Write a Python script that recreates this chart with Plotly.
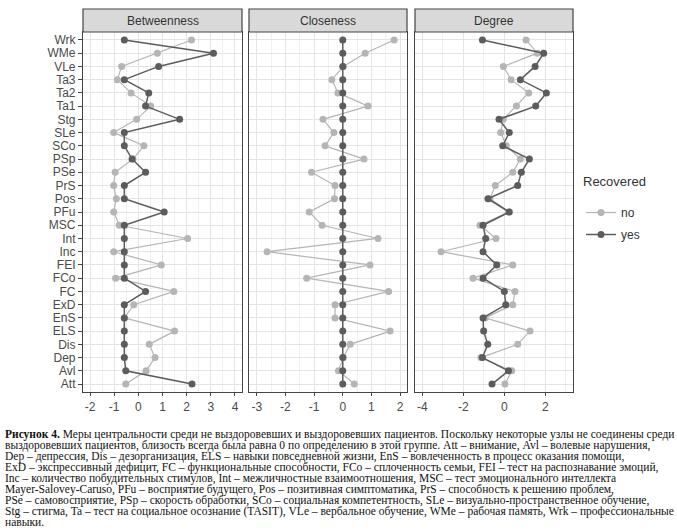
import plotly.graph_objects as go

# ---------------- data ----------------
categories = ["Wrk", "WMe", "VLe", "Ta3", "Ta2", "Ta1", "Stg", "SLe", "SCo", "PSp",
              "PSe", "PrS", "Pos", "PFu", "MSC", "Int", "Inc", "FEI", "FCo", "FC",
              "ExD", "EnS", "ELS", "Dis", "Dep", "Avl", "Att"]

betw_no = [2.20, 0.79, -0.69, -0.87, -0.30, 0.51, -0.07, -1.02, 0.23, -0.22,
           -0.96, -1.02, -0.91, -1.02, -0.79, 2.04, -1.02, 0.95, -0.94, 1.47,
           -0.19, -0.58, 1.50, 0.45, 0.69, 0.32, -0.52]
betw_yes = [-0.58, 3.11, 0.84, -0.58, 0.43, 0.30, 1.71, -0.58, -0.58, -0.26,
            0.30, -0.58, -0.58, 1.07, -0.58, -0.58, -0.58, -0.58, -0.58, 0.30,
            -0.58, -0.58, -0.58, -0.58, -0.58, -0.52, 2.22]

close_no = [1.79, 0.78, 0.02, -0.38, -0.17, 0.88, -0.69, -0.31, -0.62, 0.74,
            -1.09, -0.27, -0.29, -1.17, -0.72, 1.23, -2.64, 0.95, -1.26, 1.60,
            -0.27, -0.27, 1.65, 0.26, 0.02, -0.15, 0.40]
close_yes = [0.0] * 27

deg_no = [1.06, 1.61, -0.05, 0.33, 1.19, 0.59, -0.05, -0.18, 0.10, 0.78,
          0.41, -0.44, -0.70, 0.22, -1.19, -0.41, -3.09, 0.41, -1.53, 0.52,
          0.41, -0.94, 1.25, 0.65, -1.15, 0.36, 0.03]
deg_yes = [-1.07, 1.92, 1.50, 0.78, 2.05, 1.53, -0.26, 0.24, -0.08, 1.22,
           0.83, 0.65, -0.80, 0.24, -1.04, -0.91, -1.04, -0.37, -1.04, 0.00,
           0.07, -1.04, -1.01, -0.81, -1.07, 0.20, -0.60]

panel_titles = ["Betweenness", "Closeness", "Degree"]
x_ticks = [[-2, -1, 0, 1, 2, 3, 4], [-3, -2, -1, 0, 1, 2], [-4, -2, 0, 2]]
x_ranges = [[-2.29, 4.29], [-3.27, 2.24], [-4.36, 3.35]]
group_names = ["no", "yes"]
legend_title = "Recovered"

caption_lines = [
    "<b>Рисунок 4.</b> Меры центральности среди не выздоровевших и выздоровевших пациентов. Поскольку некоторые узлы не соединены среди",
    "выздоровевших пациентов, близость всегда была равна 0 по определению в этой группе. Att – внимание, Avl – волевые нарушения,",
    "Dep – депрессия, Dis – дезорганизация, ELS – навыки повседневной жизни, EnS – вовлеченность в процесс оказания помощи,",
    "ExD – экспрессивный дефицит, FC – функциональные способности, FCo – сплоченность семьи, FEI – тест на распознавание эмоций,",
    "Inc – количество побудительных стимулов, Int – межличностные взаимоотношения, MSC – тест эмоционального интеллекта",
    "Mayer-Salovey-Caruso, PFu – восприятие будущего, Pos – позитивная симптоматика, PrS – способность к решению проблем,",
    "PSe – самовосприятие, PSp – скорость обработки, SCo – социальная компетентность, SLe – визуально-пространственное обучение,",
    "Stg – стигма, Ta – тест на социальное осознание (TASIT), VLe – вербальное обучение, WMe – рабочая память, Wrk – профессиональные",
    "навыки.",
]

# ---------------- style ----------------
W, H = 677, 532
col_no = "#b5b5b5"
col_yes = "#5c5c5c"
border = "#444444"
grid_major = "#e4e4e4"
grid_minor = "#f0f0f0"
text_col = "#4a4a4a"

panel_px = [(83, 242), (249, 407), (415, 573)]
top_px, bot_px = 32, 392
strip_top = 9


def px_x(p):
    return p / W


def px_y(p):
    return 1 - p / H


fig = go.Figure()
series = [(betw_no, betw_yes), (close_no, close_yes), (deg_no, deg_yes)]

for i, (sno, syes) in enumerate(series):
    xa = "x" if i == 0 else f"x{i+1}"
    ya = "y" if i == 0 else f"y{i+1}"
    for name, vals, col, lw in [(group_names[0], sno, col_no, 1.2), (group_names[1], syes, col_yes, 1.5)]:
        fig.add_trace(go.Scatter(
            x=vals, y=categories, mode="lines+markers", name=name,
            line=dict(color=col, width=lw),
            marker=dict(color=col, size=7),
            xaxis=xa, yaxis=ya, showlegend=(i == 0), legendgroup=name,
        ))

layout = dict(
    width=W, height=H, autosize=False,
    margin=dict(l=0, r=0, t=0, b=0, pad=0),
    paper_bgcolor="white", plot_bgcolor="white",
    font=dict(family="Liberation Sans, Arial, sans-serif", color=text_col, size=12),
    showlegend=True,
    legend=dict(
        x=px_x(581), y=px_y(198), xanchor="left", yanchor="top",
        font=dict(size=12, color="#333333"),
        bgcolor="rgba(0,0,0,0)", tracegroupgap=3, itemwidth=30,
    ),
)

cat_order = categories[::-1]
shapes = []
annotations = []
for i in range(3):
    xk = "xaxis" if i == 0 else f"xaxis{i+1}"
    yk = "yaxis" if i == 0 else f"yaxis{i+1}"
    ya = "y" if i == 0 else f"y{i+1}"
    xa = "x" if i == 0 else f"x{i+1}"
    x0, x1 = panel_px[i]
    layout[xk] = dict(
        domain=[px_x(x0), px_x(x1)], anchor=ya, range=x_ranges[i], automargin=False,
        tickvals=x_ticks[i], ticktext=[str(t) for t in x_ticks[i]],
        showgrid=True, gridcolor=grid_major, gridwidth=1,
        minor=dict(showgrid=True, gridcolor=grid_minor, dtick=(0.5 if i < 2 else 1), tick0=0),
        zeroline=False, showline=True, mirror=True, linecolor=border, linewidth=1.2,
        ticks="outside", ticklen=3, tickcolor=border, tickfont=dict(size=12, color=text_col),
    )
    layout[yk] = dict(
        domain=[px_y(bot_px), px_y(top_px)], anchor=xa, automargin=False,
        type="category", categoryorder="array", categoryarray=cat_order,
        tickmode="array", tickvals=cat_order, ticktext=cat_order,
        range=[-0.6, len(categories) - 0.4],
        showgrid=True, gridcolor=grid_major, gridwidth=1, zeroline=False,
        showline=True, mirror=True, linecolor=border, linewidth=1.2,
        showticklabels=(i == 0), ticks=("outside" if i == 0 else ""), ticklen=4,
        tickcolor=border, tickfont=dict(size=12, color=text_col),
    )
    shapes.append(dict(type="rect", xref="paper", yref="paper",
                       x0=px_x(x0), x1=px_x(x1), y0=px_y(top_px), y1=px_y(strip_top),
                       fillcolor="#d9d9d9", line=dict(color=border, width=1.2)))
    annotations.append(dict(xref="paper", yref="paper", x=px_x((x0 + x1) / 2),
                            y=px_y((top_px + strip_top) / 2), text=panel_titles[i],
                            showarrow=False, xanchor="center", yanchor="middle",
                            font=dict(size=12, color="#333333")))

# legend title
annotations.append(dict(xref="paper", yref="paper", x=px_x(581), y=px_y(182),
                        text=legend_title, showarrow=False, xanchor="left", yanchor="middle",
                        font=dict(size=13, color="#333333")))

line_h = 11.0
first_y = 434
for k, line in enumerate(caption_lines):
    annotations.append(dict(xref="paper", yref="paper", x=px_x(3), y=px_y(first_y + k * line_h),
                            text=line, showarrow=False, xanchor="left", yanchor="middle",
                            font=dict(family="Liberation Serif, Times New Roman, serif",
                                      size=11.5, color="#111111")))

layout["shapes"] = shapes
layout["annotations"] = annotations
fig.update_layout(**layout)

fig.write_html("out.html", config={"displayModeBar": False},
               post_script="document.body.style.margin='0';document.body.style.overflow='hidden';")
